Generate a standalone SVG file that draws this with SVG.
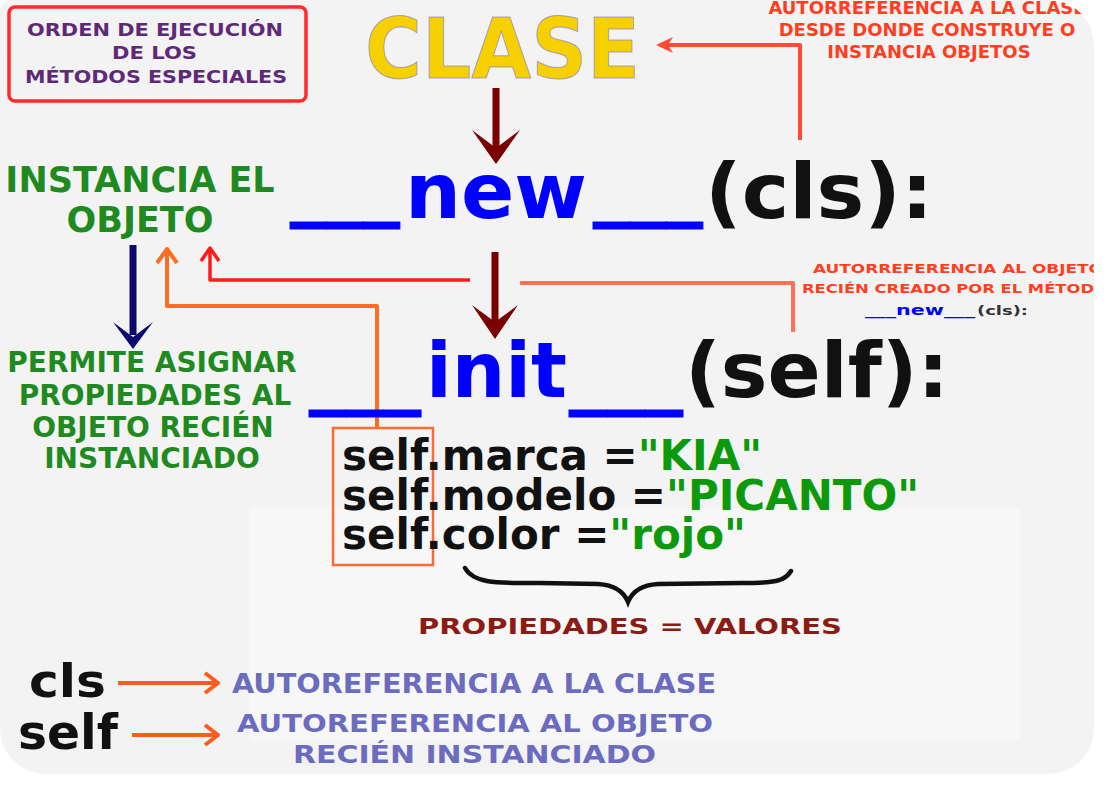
<svg xmlns="http://www.w3.org/2000/svg" width="1111" height="788" viewBox="0 0 1111 788">
<style>
.b{font-family:"DejaVu Sans",Verdana,sans-serif;font-weight:bold}
.purple{fill:#5e2a78}
.redt{fill:#ff3d1f}
.green{fill:#1f8a1f}
.blue{fill:#0000ff}
.uline{fill:#0000ff;stroke:#0000ff;stroke-width:1}
.blk{fill:#111111}
.val{fill:#0c9a0c}
.slate{fill:#6b6bbf}
.conn{fill:none;stroke-linecap:butt;stroke-linejoin:round}
</style>
<defs>
<clipPath id="bgclip"><path d="M12,0 H1049 A45,45 0 0 1 1094,45 V729 A45,45 0 0 1 1049,774 H45 A45,45 0 0 1 0,729 V12 A12,12 0 0 1 12,0 Z"/></clipPath>
</defs>
<rect x="0" y="0" width="1111" height="788" fill="#ffffff"/>
<g clip-path="url(#bgclip)">
<path d="M12,0 H1049 A45,45 0 0 1 1094,45 V729 A45,45 0 0 1 1049,774 H45 A45,45 0 0 1 0,729 V12 A12,12 0 0 1 12,0 Z" fill="#f3f3f3"/>
<rect x="250" y="508" width="770" height="232" fill="#f7f7f7"/>

<g id="connectors">
<path class="conn" d="M800,140 V45 H668" stroke="#ff4a3a" stroke-width="4"/>
<path d="M656,45 L673,37 L668,45 L673,53 Z" fill="#ff4a3a"/>
<path class="conn" d="M496,88 V150" stroke="#7b0000" stroke-width="7"/>
<path d="M472,130 L496,164 L520,130 L496,148 Z" fill="#7b0000"/>
<path class="conn" d="M495,252 V326" stroke="#7b0000" stroke-width="7"/>
<path d="M472,305 L495,339 L518,305 L495,322 Z" fill="#7b0000"/>
<path class="conn" d="M133,245 V335" stroke="#0a0a6e" stroke-width="7"/>
<path d="M113,322 L133,349 L153,322 L133,337 Z" fill="#0a0a6e"/>
<path class="conn" d="M470,280 H210 V250" stroke="#ff1a1a" stroke-width="3.5"/>
<path class="conn" d="M201,261 L210,248 L219,261" stroke="#ff1a1a" stroke-width="3.5"/>
<path class="conn" d="M793,332 V283 H520" stroke="#ff7055" stroke-width="4"/>
<path class="conn" d="M377,428 V306 H167 V252" stroke="#ff6a25" stroke-width="4"/>
<path class="conn" d="M157,263 L167,249 L177,263" stroke="#ff6a25" stroke-width="4"/>
<path class="conn" d="M118,683 H216" stroke="#ff5a1f" stroke-width="4"/>
<path class="conn" d="M205,673 L218,683 L205,693" stroke="#ff5a1f" stroke-width="4"/>
<path class="conn" d="M132,735 H216" stroke="#ff5a1f" stroke-width="4"/>
<path class="conn" d="M205,725 L218,735 L205,745" stroke="#ff5a1f" stroke-width="4"/>
</g>

<g id="title-box">
<rect x="9" y="7" width="297" height="94" rx="6" fill="none" stroke="#ff2a2a" stroke-width="3.5"/>
<text class="b purple" font-size="17" x="27" y="36" textLength="256" lengthAdjust="spacingAndGlyphs">ORDEN DE EJECUCIÓN</text>
<text class="b purple" font-size="17" x="112" y="59" textLength="85" lengthAdjust="spacingAndGlyphs">DE LOS</text>
<text class="b purple" font-size="17" x="25" y="83" textLength="262" lengthAdjust="spacingAndGlyphs">MÉTODOS ESPECIALES</text>
</g>

<g id="clase">
<text class="b" font-size="84" x="365" y="78" textLength="275" lengthAdjust="spacingAndGlyphs" fill="#f7d000" stroke="#5a5aff" stroke-width="1" stroke-opacity="0.5">CLASE</text>
</g>

<g id="note-clase">
<text class="b redt" font-size="18" x="927" y="14" text-anchor="middle">AUTORREFERENCIA A LA CLASE</text>
<text class="b redt" font-size="18" x="927" y="36" text-anchor="middle">DESDE DONDE CONSTRUYE O</text>
<text class="b redt" font-size="18" x="929" y="58" text-anchor="middle">INSTANCIA OBJETOS</text>
</g>

<g id="new">
<text class="b uline" font-size="76" x="290" y="210.5" textLength="110" lengthAdjust="spacingAndGlyphs">___</text>
<text class="b blue" font-size="76" x="405" y="218" textLength="182" lengthAdjust="spacingAndGlyphs">new</text>
<text class="b uline" font-size="76" x="593" y="210.5" textLength="110" lengthAdjust="spacingAndGlyphs">___</text>
<text class="b blk" font-size="76" x="705" y="218" textLength="228" lengthAdjust="spacingAndGlyphs">(cls):</text>
</g>

<g id="instancia">
<text class="b green" font-size="35" x="140" y="192" text-anchor="middle">INSTANCIA EL</text>
<text class="b green" font-size="35" x="140" y="232" text-anchor="middle">OBJETO</text>
</g>

<g id="permite">
<text class="b green" font-size="28" x="152" y="372" text-anchor="middle">PERMITE ASIGNAR</text>
<text class="b green" font-size="28" x="155" y="405" text-anchor="middle">PROPIEDADES AL</text>
<text class="b green" font-size="28" x="153" y="437" text-anchor="middle">OBJETO RECIÉN</text>
<text class="b green" font-size="28" x="152" y="468" text-anchor="middle">INSTANCIADO</text>
</g>

<g id="note-self">
<text class="b redt" font-size="12" x="813" y="273" textLength="290" lengthAdjust="spacingAndGlyphs">AUTORREFERENCIA AL OBJETO</text>
<text class="b redt" font-size="12" x="802" y="293" textLength="306" lengthAdjust="spacingAndGlyphs">RECIÉN CREADO POR EL MÉTODO</text>
<text class="b blue" font-size="14" x="865" y="315" textLength="110" lengthAdjust="spacingAndGlyphs">___new___</text>
<text class="b" font-size="13" x="977" y="315" fill="#333333" textLength="51" lengthAdjust="spacingAndGlyphs">(cls):</text>
</g>

<g id="init">
<text class="b uline" font-size="76" x="309" y="398.5" textLength="112" lengthAdjust="spacingAndGlyphs">___</text>
<text class="b blue" font-size="76" x="426" y="397" textLength="141" lengthAdjust="spacingAndGlyphs">init</text>
<text class="b uline" font-size="76" x="569" y="398.5" textLength="114" lengthAdjust="spacingAndGlyphs">___</text>
<text class="b blk" font-size="76" x="685" y="397" textLength="264" lengthAdjust="spacingAndGlyphs">(self):</text>
</g>

<g id="properties">
<rect x="333" y="428" width="100" height="137" fill="none" stroke="#ff6a30" stroke-width="2.5"/>
<text class="b blk" font-size="42" x="342" y="470">self.marca =<tspan class="val">"KIA"</tspan></text>
<text class="b blk" font-size="42" x="342" y="510">self.modelo =<tspan class="val">"PICANTO"</tspan></text>
<text class="b blk" font-size="42" x="342" y="549">self.color =<tspan class="val">"rojo"</tspan></text>
</g>

<g id="brace">
<path d="M465,568 C474,584 498,583 540,583 L598,584 C614,585 624,592 628,602 C632,592 642,585 658,584 L742,583 C776,583 785,581 791,571" fill="none" stroke="#111111" stroke-width="4.5" stroke-linecap="round"/>
<text class="b" font-size="22" x="418" y="634" fill="#8b1c14" textLength="424" lengthAdjust="spacingAndGlyphs">PROPIEDADES = VALORES</text>
</g>

<g id="legend-cls">
<text class="b blk" font-size="46" x="29" y="697" textLength="77" lengthAdjust="spacingAndGlyphs">cls</text>
<text class="b slate" font-size="26" x="232" y="693" textLength="484" lengthAdjust="spacingAndGlyphs">AUTOREFERENCIA A LA CLASE</text>
</g>

<g id="legend-self">
<text class="b blk" font-size="48" x="18" y="749" textLength="100" lengthAdjust="spacingAndGlyphs">self</text>
<text class="b slate" font-size="25" x="237" y="732" textLength="476" lengthAdjust="spacingAndGlyphs">AUTOREFERENCIA AL OBJETO</text>
<text class="b slate" font-size="25" x="293" y="763" textLength="363" lengthAdjust="spacingAndGlyphs">RECIÉN INSTANCIADO</text>
</g>
</g>
</svg>
